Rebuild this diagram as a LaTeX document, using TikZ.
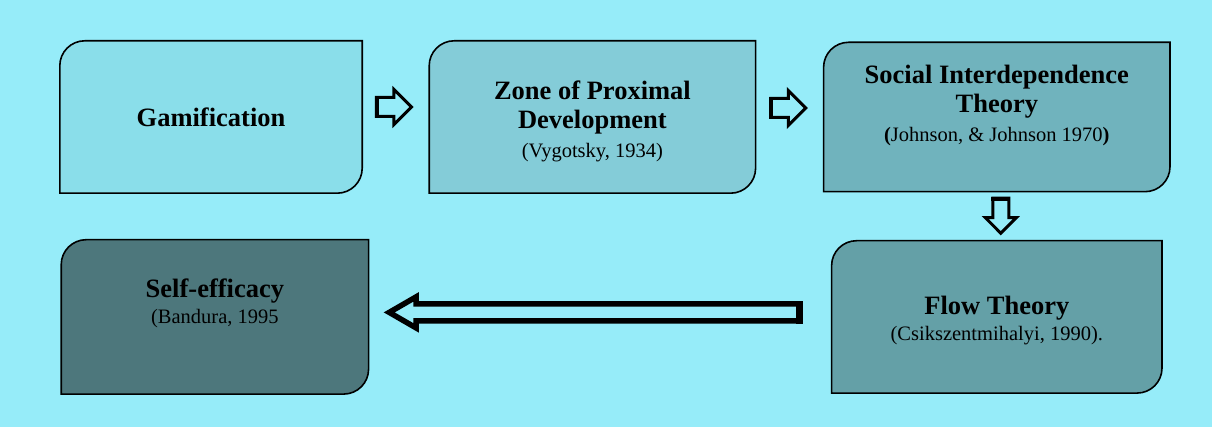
\documentclass[tikz,border=0pt]{standalone}
\usepackage{fontspec}
\setmainfont{Liberation Serif}
\usetikzlibrary{positioning,calc,shapes.arrows,backgrounds}

\definecolor{bgcyan}{HTML}{96ECF9}
\definecolor{stageA}{HTML}{8ADEEA}
\definecolor{stageB}{HTML}{84CCD8}
\definecolor{stageC}{HTML}{70B3BD}
\definecolor{stageD}{HTML}{64A0A7}
\definecolor{stageE}{HTML}{4D777C}

\newcommand{\boxcite}[1]{{\fontsize{20.5}{26}\selectfont #1}}

\begin{document}
\begin{tikzpicture}[
          x=1pt, y=1pt,
          stage/.style={align=center, inner sep=0pt, minimum height=152pt, font=\fontsize{26.5}{29}\selectfont},
          frame/.style={draw=black, line width=1.6pt},
          blockarr/.style={single arrow, draw=black, fill=bgcyan, line width=3pt, inner xsep=0pt, inner ysep=8pt, single arrow head extend=8pt, minimum height=35pt},
          longarr/.style={blockarr, line width=5.5pt, inner ysep=5.75pt, single arrow head extend=7pt, single arrow tip angle=60, minimum height=410pt},
          tailbar/.style={line width=4pt}
      ]
        \useasboundingbox (0,0) rectangle (1212,427);
        % stages
        \node[stage, minimum width=302pt] (gam) at (211,310) {\textbf{Gamification}};
        \node[stage, minimum width=326pt, right=67pt of gam] (zpd) {\rule{0pt}{28pt}\textbf{Zone of Proximal}\\\textbf{Development}\\\boxcite{(Vygotsky, 1934)}};
        \node[stage, minimum width=346pt, minimum height=149pt, text depth=27pt, right=68pt of zpd] (sit) {\textbf{Social Interdependence}\\\textbf{Theory}\\\boxcite{\textbf{(}Johnson, \& Johnson 1970\textbf{)}}};
        \node[stage, minimum width=330pt, below=49pt of sit] (flow) {\rule{0pt}{26pt}\textbf{Flow Theory}\\[-3pt]\boxcite{(Csikszentmihalyi, 1990).}};
        \node[stage, minimum width=307pt, minimum height=154pt, text depth=31pt, left=463pt of flow] (self) {\textbf{Self-efficacy}\\[-3pt]\boxcite{(Bandura, 1995}};
        % block arrows
        \node[blockarr] (a1) at ($(gam.east)!0.5!(zpd.west)+(-6.5,10)$) {};
        \node[blockarr] (a2) at ($(zpd.east)!0.5!(sit.west)+(-6,9)$) {};
        \node[blockarr, rotate=-90, inner ysep=6.5pt, single arrow head extend=7.5pt] (a3) at ($(sit.south)!0.5!(flow.north)+(4,4.5)$) {};
        \node[longarr, rotate=180] (a4) at ($(flow.west)!0.5!(self.east)+(1.5,4.5)$) {};
        \draw[tailbar] ([xshift=2pt]a1.before tail) -- ([xshift=2pt]a1.after tail);
        \draw[tailbar] ([xshift=2pt]a2.before tail) -- ([xshift=2pt]a2.after tail);
        \draw[tailbar] ([yshift=-2pt]a3.before tail) -- ([yshift=-2pt]a3.after tail);
        \draw[tailbar, line width=7pt] ([xshift=-3pt]a4.before tail) -- ([xshift=-3pt]a4.after tail);
        % rounded diagonal corners behind the text
        \begin{scope}[on background layer]
          \fill[bgcyan] (0,0) rectangle (1212,427);
          \foreach \n/\c in {gam/stageA, zpd/stageB, sit/stageC, flow/stageD, self/stageE} {
            \draw[frame, fill=\c] ([yshift=-25pt]\n.north west) arc[start angle=180, end angle=90, radius=25pt]
              -- (\n.north east) -- ([yshift=25pt]\n.south east) arc[start angle=0, end angle=-90, radius=25pt]
              -- (\n.south west) -- cycle;
          }
        \end{scope}
      \end{tikzpicture}
\end{document}
